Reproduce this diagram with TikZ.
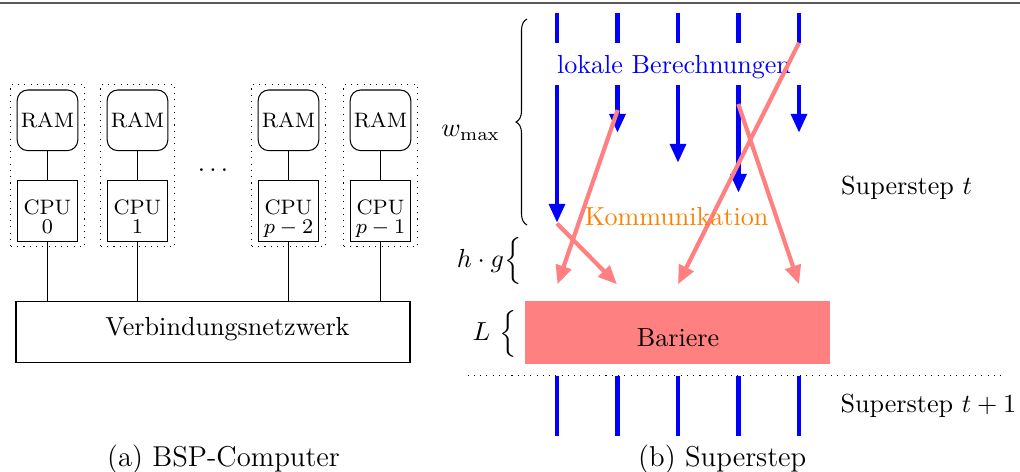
\documentclass[tikz,border=0pt]{standalone}
\usetikzlibrary{arrows.meta,decorations.pathreplacing}
\begin{document}
\begin{tikzpicture}[x=0.383pt,y=-0.383pt,
  unitbox/.style={draw, dotted, minimum width=28pt, minimum height=62.3pt, inner sep=0},
  rambox/.style={draw, rounded corners=4pt, minimum width=23.2pt, minimum height=23.2pt, inner sep=0, font=\footnotesize},
  cpubox/.style={draw, minimum width=23.2pt, minimum height=23.4pt, inner sep=0},
  cpulbl/.style={inner sep=0, font=\fontsize{8}{7.2}\selectfont, align=center, anchor=north},
  blu/.style={blue, ultra thick},
  arrtip/.style={-{Triangle[width=6pt,length=7.2pt]}},
  redarr/.style={red!50, ultra thick, -{Triangle[width=6pt,length=7.2pt]}},
  lbl/.style={inner sep=0},
  captxt/.style={inner sep=0, anchor=base, font=\fontsize{11}{13.6}\selectfont}]
\useasboundingbox (0,0) rectangle (1020,471);
\draw[line width=0.7pt, black!65] (0,3) -- (1020,3);

% ---------- (a) BSP-Computer ----------
\node[draw, minimum width=150.9pt, minimum height=23.2pt, inner sep=0] (net) at (213,332) {};
\node[lbl, anchor=base] (netlbl) at (227.5,335) {Verbindungsnetzwerk};
\foreach \i/\cx/\lab in {0/47.5/0, 1/137.5/1, 2/288.5/{$p-2$}, 3/380.5/{$p-1$}} {
  \node[unitbox] (u\i) at (\cx,165.35) {};
  \node[rambox] (ram\i) at (\cx,120.3) {RAM};
  \node[cpubox] (cpu\i) at (\cx,211.2) {};
  \node[cpulbl] (cpuT\i) at (\cx,199.3) {CPU\\\lab};
  \draw (ram\i) -- (cpu\i);
  \draw (cpu\i.south) -- (cpu\i.south |- net.north);
}
\node[lbl, anchor=base] (dots) at (213,171) {$\ldots$};
\node[captxt] (capa) at (223.5,466) {(a) BSP-Computer};

% ---------- (b) Superstep ----------
\foreach \x/\t in {557/222.7, 617.5/132.7, 678/162.7, 738.5/192.7, 799/132.7} {
  \draw[blu] (\x,12.7) -- (\x,42.7);
  \draw[blu, arrtip] (\x,85) -- (\x,\t);
  \draw[blu] (\x,375.7) -- (\x,435.7);
}
\node[lbl, anchor=base, text=blue] (lok) at (674,73) {lokale Berechnungen};

\coordinate (r1a) at (557,223.5);  \coordinate (r1b) at (617,284.3);
\coordinate (r2a) at (617.7,110);  \coordinate (r2b) at (557.5,284.3);
\coordinate (r3a) at (799,42.7);   \coordinate (r3b) at (678,284.3);
\coordinate (r4a) at (738.3,104);  \coordinate (r4b) at (799,284.3);
\draw[redarr] (r1a) -- (r1b);
\draw[redarr] (r2a) -- (r2b);
\draw[redarr] (r3a) -- (r3b);
\draw[redarr] (r4a) -- (r4b);
\node[lbl, anchor=base, text=orange] (komm) at (676.7,225) {Kommunikation};

\coordinate (bt) at (527,19);
\coordinate (bb) at (527,225);
\draw[decorate, decoration={brace, amplitude=4.2pt}] (bb) -- (bt);
\node[lbl, anchor=base east] (wmax) at (500.5,136.7) {$w_{\max}$};
\node[lbl, anchor=east] (hg) at (522,261) {$h\cdot g\Big\{$};
\node[lbl, anchor=east] (L) at (517,333.5) {$L\ \Big\{$};

\node[fill=red!50, minimum width=117pt, minimum height=24.1pt, inner sep=0] (bar) at (677.75,332.5) {};
\node[lbl, anchor=base] (barlbl) at (678,346.5) {Bariere};
\draw[dotted] (467.6,375.7) -- (1003,375.7);

\node[lbl, anchor=base west] (st) at (840.7,194.3) {Superstep $t$};
\node[lbl, anchor=base west] (st1) at (840,412.7) {Superstep $t+1$};
\node[captxt] (capb) at (722.3,466) {(b) Superstep};
\end{tikzpicture}
\end{document}
